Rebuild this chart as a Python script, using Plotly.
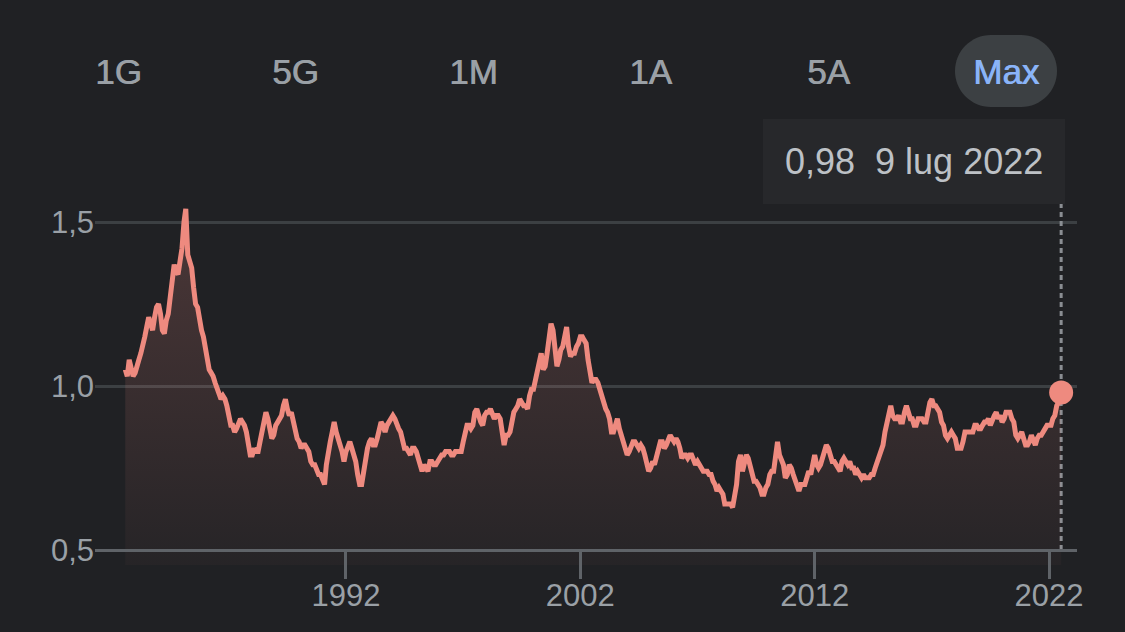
import pandas as pd
import plotly.graph_objects as go

# ---- data: USD -> EUR, monthly (Aug 1982 .. 9 Jul 2022) ----
start_month = "1982-08-01"
last_date = "2022-07-09"

values_1982_1989 = [
    1.05, 1.03, 1.08, 1.06, 1.03,
    1.04, 1.07, 1.08, 1.10, 1.12, 1.15, 1.18, 1.21, 1.19, 1.17, 1.21, 1.24,
    1.25, 1.22, 1.17, 1.16, 1.20, 1.22, 1.27, 1.31, 1.37, 1.35, 1.34, 1.38,
    1.42, 1.50, 1.54, 1.40, 1.38, 1.36, 1.30, 1.25, 1.24, 1.19, 1.17, 1.15,
    1.12, 1.09, 1.05, 1.04, 1.03, 1.01, 0.99, 0.97, 0.96, 0.97, 0.96, 0.94,
    0.90, 0.88, 0.88, 0.86, 0.87, 0.89, 0.90, 0.89, 0.88, 0.86, 0.81, 0.79,
    0.79, 0.81, 0.80, 0.80, 0.83, 0.86, 0.90, 0.92, 0.90, 0.87, 0.84, 0.85,
    0.88, 0.89, 0.90, 0.91, 0.94, 0.96, 0.93, 0.91, 0.92, 0.89, 0.87, 0.84,
]
values_1990_1999 = [
    0.83, 0.81, 0.82, 0.82, 0.81, 0.80, 0.77, 0.76, 0.76, 0.74, 0.73, 0.73,
    0.71, 0.70, 0.76, 0.81, 0.83, 0.86, 0.89, 0.86, 0.83, 0.82, 0.80, 0.77,
    0.80, 0.82, 0.83, 0.81, 0.79, 0.77, 0.73, 0.70, 0.70, 0.74, 0.79, 0.81,
    0.83, 0.84, 0.82, 0.82, 0.84, 0.87, 0.89, 0.88, 0.86, 0.88, 0.89, 0.90,
    0.91, 0.90, 0.88, 0.87, 0.86, 0.84, 0.81, 0.81, 0.80, 0.79, 0.81, 0.81,
    0.80, 0.78, 0.75, 0.74, 0.76, 0.75, 0.74, 0.77, 0.77, 0.76, 0.76, 0.77,
    0.78, 0.79, 0.79, 0.80, 0.80, 0.80, 0.79, 0.79, 0.80, 0.80, 0.80, 0.80,
    0.83, 0.86, 0.88, 0.88, 0.87, 0.88, 0.92, 0.93, 0.90, 0.89, 0.88, 0.91,
    0.92, 0.92, 0.93, 0.91, 0.90, 0.91, 0.91, 0.90, 0.85, 0.82, 0.85, 0.85,
    0.86, 0.89, 0.92, 0.93, 0.94, 0.96, 0.95, 0.94, 0.94, 0.93, 0.97, 0.99,
]
values_2000_2009 = [
    0.99, 1.02, 1.04, 1.07, 1.10, 1.05, 1.06, 1.10, 1.15, 1.19, 1.17, 1.10,
    1.06, 1.08, 1.11, 1.12, 1.16, 1.18, 1.12, 1.09, 1.10, 1.10, 1.12, 1.13,
    1.15, 1.15, 1.14, 1.13, 1.08, 1.03, 1.01, 1.02, 1.02, 1.01, 0.99, 0.96,
    0.94, 0.93, 0.92, 0.90, 0.86, 0.86, 0.88, 0.90, 0.87, 0.85, 0.84, 0.81,
    0.79, 0.80, 0.82, 0.83, 0.83, 0.82, 0.81, 0.82, 0.81, 0.79, 0.76, 0.74,
    0.75, 0.77, 0.76, 0.78, 0.80, 0.83, 0.83, 0.81, 0.82, 0.84, 0.85, 0.84,
    0.83, 0.84, 0.83, 0.81, 0.78, 0.79, 0.79, 0.78, 0.79, 0.79, 0.77, 0.76,
    0.77, 0.76, 0.75, 0.74, 0.74, 0.74, 0.73, 0.73, 0.71, 0.70, 0.68, 0.69,
    0.68, 0.67, 0.64, 0.64, 0.64, 0.64, 0.63, 0.67, 0.70, 0.77, 0.79, 0.74,
    0.76, 0.79, 0.78, 0.76, 0.73, 0.71, 0.71, 0.70, 0.69, 0.67, 0.67, 0.69,
]
values_2010_2022 = [
    0.70, 0.73, 0.74, 0.74, 0.79, 0.83, 0.79, 0.77, 0.76, 0.72, 0.73, 0.76,
    0.75, 0.73, 0.71, 0.69, 0.68, 0.70, 0.70, 0.70, 0.72, 0.74, 0.73, 0.76,
    0.79, 0.76, 0.75, 0.76, 0.78, 0.80, 0.82, 0.81, 0.78, 0.77, 0.77, 0.76,
    0.75, 0.74, 0.77, 0.78, 0.77, 0.76, 0.77, 0.75, 0.75, 0.73, 0.74, 0.73,
    0.72, 0.73, 0.72, 0.72, 0.72, 0.73, 0.73, 0.75, 0.77, 0.79, 0.80, 0.82,
    0.86, 0.89, 0.92, 0.94, 0.91, 0.90, 0.90, 0.91, 0.89, 0.89, 0.92, 0.94,
    0.92, 0.90, 0.90, 0.88, 0.88, 0.90, 0.90, 0.90, 0.89, 0.89, 0.92, 0.95,
    0.96, 0.94, 0.94, 0.93, 0.92, 0.89, 0.88, 0.85, 0.84, 0.85, 0.86, 0.85,
    0.84, 0.81, 0.81, 0.81, 0.83, 0.86, 0.86, 0.86, 0.86, 0.86, 0.88, 0.88,
    0.87, 0.87, 0.88, 0.89, 0.89, 0.90, 0.88, 0.90, 0.91, 0.92, 0.90, 0.91,
    0.89, 0.90, 0.92, 0.92, 0.92, 0.90, 0.89, 0.85, 0.84, 0.85, 0.86, 0.84,
    0.82, 0.82, 0.83, 0.85, 0.83, 0.82, 0.84, 0.85, 0.85, 0.86, 0.87, 0.88,
    0.88, 0.88, 0.90, 0.91, 0.94, 0.95, 0.98,
]

range_buttons = ["1G", "5G", "1M", "1A", "5A", "Max"]
active_button = "Max"
x_tick_years = ["1992", "2002", "2012", "2022"]
y_ticks = [0.5, 1.0, 1.5]
tooltip_date_label = "9 lug 2022"

values = values_1982_1989 + values_1990_1999 + values_2000_2009 + values_2010_2022
dates = list(pd.date_range(start_month, periods=len(values) - 1, freq="MS")) + [pd.Timestamp(last_date)]

# ---- style ----
BG = "#202124"
LINE = "#ee8a7f"
GRID = "#3c4043"
AXIS = "#5f6368"
LABEL = "#9aa0a6"
FONT = "Liberation Sans, Arial, Helvetica, sans-serif"

W, H = 1125, 632
ML, MR, MT, MB = 95, 48, 120, 67
plot_h = H - MT - MB
plot_w = W - ML - MR

def px_to_paper_y(py):
    return (H - MB - py) / plot_h

def px_to_paper_x(px):
    return (px - ML) / plot_w

fig = go.Figure()

fig.add_trace(go.Scatter(
    x=dates, y=values, mode="lines",
    line=dict(color=LINE, width=5),
    fill="tozeroy",
    fillgradient=dict(
        type="vertical",
        colorscale=[[0, "rgba(242,139,130,0.03)"], [1, "rgba(242,139,130,0.21)"]],
        start=0.454, stop=1.55,
    ),
    hoverinfo="skip", showlegend=False,
))

fig.add_trace(go.Scatter(
    x=[dates[-1]], y=[values[-1]], mode="markers",
    marker=dict(color=LINE, size=24),
    hoverinfo="skip", showlegend=False,
))

shapes = [
    dict(type="line", xref="x", yref="y", x0=dates[-1], x1=dates[-1],
         y0=0.5, y1=1.555, line=dict(color="#8a8e93", width=3, dash="5px,4px"),
         layer="between"),
]

annotations = []
# range selector buttons
btn_x0, btn_step, btn_y = 118, 177.6, 71
for i, b in enumerate(range_buttons):
    cx = btn_x0 + i * btn_step
    col = "#8ab4f8" if b == active_button else LABEL
    if b == active_button:
        r = 36
        hw = 15
        k = 0.5523 * r
        path = (f"M {-hw},{r} L {hw},{r} C {hw + k},{r} {hw + r},{k} {hw + r},0 "
                f"C {hw + r},{-k} {hw + k},{-r} {hw},{-r} L {-hw},{-r} "
                f"C {-hw - k},{-r} {-hw - r},{-k} {-hw - r},0 "
                f"C {-hw - r},{k} {-hw - k},{r} {-hw},{r} Z")
        shapes.append(dict(type="path", xref="paper", yref="paper",
                           xsizemode="pixel", ysizemode="pixel",
                           xanchor=px_to_paper_x(cx), yanchor=px_to_paper_y(btn_y),
                           path=path, fillcolor="#3c4043", line=dict(width=0),
                           layer="below"))
    annotations.append(dict(
        text=b, xref="paper", yref="paper",
        x=px_to_paper_x(cx), y=px_to_paper_y(btn_y),
        xanchor="center", yanchor="middle", showarrow=False,
        font=dict(family=FONT, size=35, color=col,
                  shadow=f"0.8px 0px 0px {col}"),
    ))

# tooltip
val_txt = f"{values[-1]:.2f}".replace(".", ",")
annotations.append(dict(
    text=f"{val_txt}\u00a0\u00a0{tooltip_date_label}",
    xref="x", yref="paper", x=dates[-1], y=px_to_paper_y(119),
    xanchor="right", yanchor="top", xshift=4, showarrow=False,
    bgcolor="#27282b", borderpad=22, borderwidth=0,
    font=dict(family=FONT, size=36, color="#bdc1c6"),
))

fig.update_layout(
    width=W, height=H,
    margin=dict(l=ML, r=MR, t=MT, b=MB, autoexpand=False),
    paper_bgcolor=BG, plot_bgcolor=BG,
    separators=",.",
    showlegend=False, hovermode=False,
    shapes=shapes, annotations=annotations,
    xaxis=dict(
        type="date",
        range=["1981-04-16", "2023-03-13"],
        tickvals=[f"{y}-01-01" for y in x_tick_years],
        ticktext=x_tick_years,
        ticks="outside", ticklen=27, tickwidth=3, tickcolor=AXIS,
        ticklabelstandoff=-10,
        showgrid=False, zeroline=False,
        showline=True, linecolor=AXIS, linewidth=3,
        anchor="free", position=px_to_paper_y(550),
        tickfont=dict(family=FONT, size=31, color=LABEL),
        automargin=False, fixedrange=True,
    ),
    yaxis=dict(
        range=[0.4543, 1.811],
        tickvals=y_ticks, tickformat=".1f",
        showgrid=True, gridcolor=GRID, gridwidth=2.5,
        zeroline=False, ticks="", showline=False,
        tickfont=dict(family=FONT, size=31, color=LABEL),
        automargin=False, fixedrange=True,
    ),
)

fig.write_html(
    "out.html",
    config={"displayModeBar": False},
    post_script="document.body.style.margin='0';document.body.style.background='#202124';",
)
